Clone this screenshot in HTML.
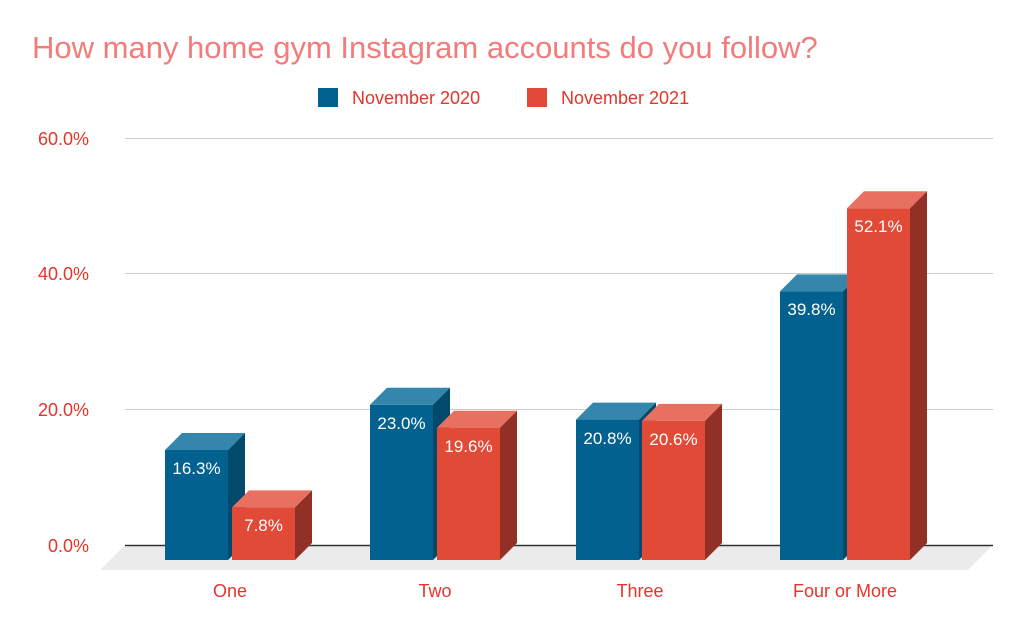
<!DOCTYPE html>
<html><head><meta charset="utf-8"><style>
html,body{margin:0;padding:0;background:#fff;}
svg{display:block;font-family:"Liberation Sans",Arial,sans-serif;}
</style></head><body>
<svg width="1024" height="633" viewBox="0 0 1024 633">
<text x="32" y="58" font-size="31" fill="#f27b7b">How many home gym Instagram accounts do you follow?</text>
<rect x="318" y="88" width="20" height="19" fill="#02618f"/>
<text x="352" y="104" font-size="18" fill="#e5342a">November 2020</text>
<rect x="527" y="88" width="20" height="19" fill="#e04a37"/>
<text x="561" y="104" font-size="18" fill="#e5342a">November 2021</text>
<g stroke="#ccc" stroke-width="1">
<line x1="125" y1="138.5" x2="993" y2="138.5"/>
<line x1="125" y1="273.5" x2="993" y2="273.5"/>
<line x1="125" y1="409.5" x2="993" y2="409.5"/>
</g>
<g font-size="18" fill="#e5342a" text-anchor="end">
<text x="89" y="145">60.0%</text>
<text x="89" y="280">40.0%</text>
<text x="89" y="416">20.0%</text>
<text x="89" y="552">0.0%</text>
</g>
<polygon points="125,545 993,545 968,570 100,570" fill="#ebebeb"/>
<line x1="125" y1="545.5" x2="993" y2="545.5" stroke="#333" stroke-width="1.5"/>

<!-- One -->
<polygon points="165,450 182,433 245,433 228,450" fill="#3586ac"/>
<polygon points="228,450 245,433 245,543 228,560" fill="#024a6d"/>
<rect x="165" y="450" width="63" height="110" fill="#02618f"/>
<polygon points="232,507.4 249,490.4 312,490.4 295,507.4" fill="#e87060"/>
<polygon points="295,507.4 312,490.4 312,543 295,560" fill="#923025"/>
<rect x="232" y="507.4" width="63" height="52.6" fill="#e04a37"/>
<!-- Two -->
<polygon points="370,404.8 387,387.8 450,387.8 433,404.8" fill="#3586ac"/>
<polygon points="433,404.8 450,387.8 450,543 433,560" fill="#024a6d"/>
<rect x="370" y="404.8" width="63" height="155.2" fill="#02618f"/>
<polygon points="437,427.7 454,410.7 517,410.7 500,427.7" fill="#e87060"/>
<polygon points="500,427.7 517,410.7 517,543 500,560" fill="#923025"/>
<rect x="437" y="427.7" width="63" height="132.3" fill="#e04a37"/>
<!-- Three -->
<polygon points="576,419.6 593,402.6 656,402.6 639,419.6" fill="#3586ac"/>
<polygon points="639,419.6 656,402.6 656,543 639,560" fill="#024a6d"/>
<rect x="576" y="419.6" width="63" height="140.4" fill="#02618f"/>
<polygon points="642,420.9 659,403.9 722,403.9 705,420.9" fill="#e87060"/>
<polygon points="705,420.9 722,403.9 722,543 705,560" fill="#923025"/>
<rect x="642" y="420.9" width="63" height="139.1" fill="#e04a37"/>
<!-- Four -->
<polygon points="780,291.4 797,274.4 860,274.4 843,291.4" fill="#3586ac"/>
<polygon points="843,291.4 860,274.4 860,543 843,560" fill="#024a6d"/>
<rect x="780" y="291.4" width="63" height="268.6" fill="#02618f"/>
<polygon points="847,208.3 864,191.3 927,191.3 910,208.3" fill="#e87060"/>
<polygon points="910,208.3 927,191.3 927,543 910,560" fill="#923025"/>
<rect x="847" y="208.3" width="63" height="351.7" fill="#e04a37"/>

<g font-size="17" fill="#fff" text-anchor="middle">
<text x="196.5" y="474">16.3%</text>
<text x="263.5" y="531">7.8%</text>
<text x="401.5" y="429">23.0%</text>
<text x="468.5" y="452">19.6%</text>
<text x="607.5" y="444">20.8%</text>
<text x="673.5" y="445">20.6%</text>
<text x="811.5" y="315">39.8%</text>
<text x="878.5" y="232">52.1%</text>
</g>
<g font-size="18" fill="#e5342a" text-anchor="middle">
<text x="230" y="597">One</text>
<text x="435" y="597">Two</text>
<text x="640" y="597">Three</text>
<text x="845" y="597">Four or More</text>
</g>
</svg>
</body></html>
